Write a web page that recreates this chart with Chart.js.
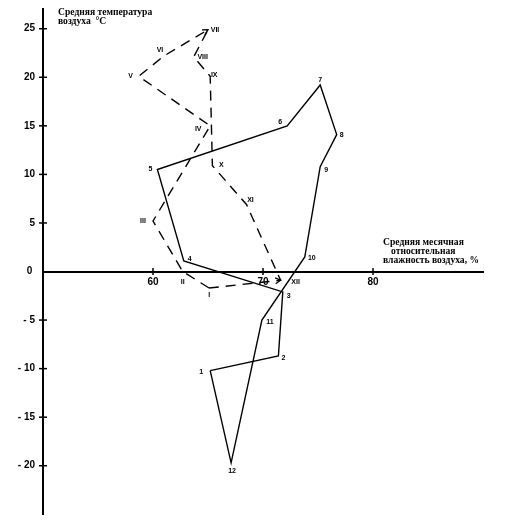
<!DOCTYPE html>
<html><head><meta charset="utf-8">
<script src="https://cdn.jsdelivr.net/npm/chart.js@4.4.0/dist/chart.umd.min.js"></script>
<style>html,body{margin:0;padding:0;background:#fff;overflow:hidden}canvas{display:block}</style>
</head><body>
<canvas id="c" width="505" height="521"></canvas>
<script>
const arabicLabels = ['1','2','3','4','5','6','7','8','9','10','11','12'];
const romanLabels = ['I','II','III','IV','V','VI','VII','VIII','IX','X','XI','XII'];
const humiditySolid = [65.2, 71.4, 71.8, 62.8, 60.4, 72.2, 75.2, 76.7, 75.2, 73.8, 69.9, 67.1];
const tempSolid     = [-10.2, -8.7, -2.1, 1.1, 10.5, 15.0, 19.2, 14.1, 10.8, 1.5, -5.0, -19.7];
const humidityDashed = [65.1, 62.7, 60.0, 65.2, 58.7, 61.0, 65.0, 63.7, 65.2, 65.4, 68.5, 71.6];
const tempDashed     = [-1.7, 0.0, 5.2, 15.0, 20.1, 22.2, 24.9, 22.1, 20.1, 10.9, 6.9, -0.9];
const xTickValues = [60, 70, 80];
const yTickValues = [-20, -15, -10, -5, 0, 5, 10, 15, 20, 25];
const yTitleLines = ['Средняя температура', 'воздуха  °C'];
const xTitleLines = ['Средняя месячная', 'относительная', 'влажность воздуха, %'];

// label offsets (style only)
const solidLabelOffsets = [[-9,1],[5,2],[6,4],[6,-2],[-7,0],[-7,-4],[0,-5],[5,0],[6,3],[7,1],[8,2],[1,8]];
const dashedLabelOffsets = [[0,7],[0,11],[-10,0],[-12,3],[-8,0],[-4,-6],[7,0],[9,0],[4,-1],[9,-1],[4,-4],[15,2]];

function closedLoop(xs, ys) {
  const pts = xs.map((x, i) => ({x: x, y: ys[i]}));
  pts.push({x: xs[0], y: ys[0]});
  return pts;
}

const decor = {
  id: 'decor',
  afterDatasetsDraw(chart) {
    const ctx = chart.ctx;
    const xs = chart.scales.x, ys = chart.scales.y;
    ctx.save();
    ctx.strokeStyle = '#000';
    ctx.fillStyle = '#000';
    ctx.lineWidth = 1.5;
    const y0 = ys.getPixelForValue(0);
    const x0 = xs.getPixelForValue(xs.min);
    xTickValues.forEach(v => {
      const px = xs.getPixelForValue(v);
      ctx.beginPath(); ctx.moveTo(px, y0 - 3.5); ctx.lineTo(px, y0 + 3.5); ctx.stroke();
    });
    yTickValues.forEach(v => {
      if (v === 0) return;
      const py = ys.getPixelForValue(v);
      ctx.beginPath(); ctx.moveTo(x0 - 4, py); ctx.lineTo(x0 + 4, py); ctx.stroke();
    });
    // point labels
    ctx.font = 'bold 7px "Liberation Sans", Arial, sans-serif';
    ctx.textAlign = 'center';
    ctx.textBaseline = 'middle';
    const m0 = chart.getDatasetMeta(0).data, m1 = chart.getDatasetMeta(1).data;
    arabicLabels.forEach((t, i) => {
      const o = solidLabelOffsets[i];
      ctx.fillText(t, m0[i].x + o[0], m0[i].y + o[1]);
    });
    romanLabels.forEach((t, i) => {
      const o = dashedLabelOffsets[i];
      ctx.fillText(t, m1[i].x + o[0], m1[i].y + o[1]);
    });
    // arrowheads
    function arrow(a, b) {
      const ang = Math.atan2(b.y - a.y, b.x - a.x);
      const L = 6;
      ctx.lineWidth = 1.3;
      ctx.beginPath();
      ctx.moveTo(b.x - L * Math.cos(ang - 0.5), b.y - L * Math.sin(ang - 0.5));
      ctx.lineTo(b.x, b.y);
      ctx.lineTo(b.x - L * Math.cos(ang + 0.5), b.y - L * Math.sin(ang + 0.5));
      ctx.stroke();
    }
    arrow(m1[5], m1[6]);
    arrow(m1[0], m1[11]);
    // axis titles
    ctx.font = 'bold 9.6px "Liberation Serif", "Times New Roman", serif';
    ctx.textAlign = 'left';
    const tx = chart.chartArea.left + 15;
    ctx.fillText(yTitleLines[0], tx, ys.top + 3);
    ctx.fillText(yTitleLines[1], tx, ys.top + 12);
    const px80 = xs.getPixelForValue(80);
    ctx.fillText(xTitleLines[0], px80 + 10, y0 - 29);
    ctx.fillText(xTitleLines[1], px80 + 18, y0 - 20);
    ctx.fillText(xTitleLines[2], px80 + 10, y0 - 11);
    ctx.restore();
  }
};

new Chart(document.getElementById('c'), {
  type: 'scatter',
  data: {
    datasets: [
      {
        data: closedLoop(humiditySolid, tempSolid),
        showLine: true, borderColor: '#000', borderWidth: 1.4,
        pointRadius: 0, fill: false, tension: 0
      },
      {
        data: closedLoop(humidityDashed, tempDashed),
        showLine: true, borderColor: '#000', borderWidth: 1.4, borderDash: [10, 7],
        pointRadius: 0, fill: false, tension: 0
      }
    ]
  },
  options: {
    responsive: false,
    animation: false,
    devicePixelRatio: 1,
    layout: { padding: { left: 0, right: 22, top: 9.3, bottom: 6.7 } },
    plugins: { legend: { display: false }, tooltip: { enabled: false } },
    scales: {
      x: {
        type: 'linear', min: 50, max: 90,
        position: { y: 0 },
        afterBuildTicks: s => { s.ticks = xTickValues.map(v => ({ value: v })); },
        afterFit: s => { s.paddingLeft = 0; s.paddingRight = 0; s.paddingTop = 0; s.paddingBottom = 0; },
        grid: { display: true, drawOnChartArea: false, drawTicks: false },
        border: { display: true, width: 2, color: '#000' },
        ticks: {
          padding: 5, color: '#000',
          font: { family: '"Liberation Sans", Arial, sans-serif', size: 10, weight: 'bold' },
          maxRotation: 0
        }
      },
      y: {
        type: 'linear', min: -25, max: 27,
        position: 'left',
        afterFit: s => { s.width = 43; s.paddingTop = 0; s.paddingBottom = 0; s.paddingLeft = 0; s.paddingRight = 0; },
        afterBuildTicks: s => { s.ticks = yTickValues.map(v => ({ value: v })); },
        grid: { display: true, drawOnChartArea: false, drawTicks: false },
        border: { display: true, width: 2, color: '#000' },
        ticks: {
          padding: 8, color: '#000',
          font: { family: '"Liberation Sans", Arial, sans-serif', size: 10, weight: 'bold' },
          callback: v => v < 0 ? '- ' + Math.abs(v) : (v === 0 ? '0 ' : String(v))
        }
      }
    }
  },
  plugins: [decor]
});
</script>
</body></html>
